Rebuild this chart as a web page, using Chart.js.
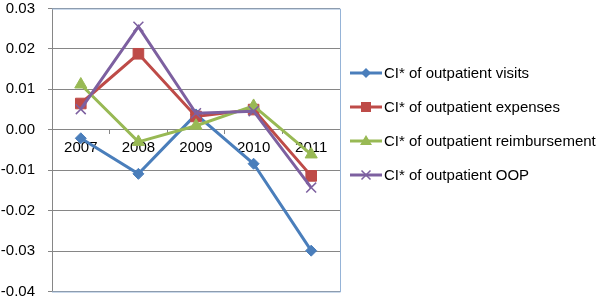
<!DOCTYPE html>
<html>
<head>
<meta charset="utf-8">
<script src="https://cdn.jsdelivr.net/npm/chart.js@4.4.0/dist/chart.umd.min.js"></script>
<style>
  html, body { margin: 0; padding: 0; background: #fff; }
  #wrap { width: 600px; height: 300px; }
</style>
</head>
<body>
<div id="wrap"><canvas id="chart" width="600" height="300"></canvas></div>
<script>
const years = ["2007", "2008", "2009", "2010", "2011"];
const visits = [-0.0021, -0.0109, 0.0038, -0.0084, -0.0299];
const expenses = [0.0065, 0.0188, 0.0033, 0.0050, -0.0114];
const reimbursement = [0.0112, -0.0030, 0.0010, 0.0059, -0.0061];
const oop = [0.0051, 0.0255, 0.0041, 0.0046, -0.0143];
const seriesNames = [
    "CI* of outpatient visits",
    "CI* of outpatient expenses",
    "CI* of outpatient reimbursement",
    "CI* of outpatient OOP"
];
const yTicks = [0.03, 0.02, 0.01, 0.00, -0.01, -0.02, -0.03, -0.04];

const FONT = "'Liberation Sans', Arial, sans-serif";
const colors = ["#4A7EBB", "#BE4B48", "#98B954", "#7D60A0"];
const styles = ["rectRot", "rect", "triangle", "crossRot"];
const radii = [5.5, 7.5, 7, 7];

function makeSet(i, data) {
    return {
        label: seriesNames[i],
        data: data,
        borderColor: colors[i],
        backgroundColor: colors[i],
        borderWidth: 3,
        pointStyle: styles[i],
        pointRadius: radii[i],
        pointBorderWidth: i === 3 ? 1.5 : 1,
        pointBorderColor: colors[i],
        pointBackgroundColor: colors[i],
        tension: 0,
        order: 4 - i
    };
}

// marker used in the legend rows
function drawMarker(ctx, style, x, y, r) {
    ctx.beginPath();
    if (style === "rectRot") {
        ctx.moveTo(x, y - r); ctx.lineTo(x + r, y); ctx.lineTo(x, y + r); ctx.lineTo(x - r, y);
        ctx.closePath(); ctx.fill();
    } else if (style === "rect") {
        ctx.rect(x - 5, y - 5, 10, 10); ctx.fill();
    } else if (style === "triangle") {
        ctx.moveTo(x, y - 6); ctx.lineTo(x + 6, y + 4); ctx.lineTo(x - 6, y + 4);
        ctx.closePath(); ctx.fill();
    } else {
        const d = 4.5;
        ctx.lineWidth = 1.5;
        ctx.moveTo(x - d, y - d); ctx.lineTo(x + d, y + d);
        ctx.moveTo(x + d, y - d); ctx.lineTo(x - d, y + d);
        ctx.stroke();
    }
}

const frameAndLegend = {
    id: "frameAndLegend",
    beforeDatasetsDraw(chart) {
        const { ctx, chartArea: a } = chart;
        ctx.save();
        ctx.strokeStyle = "#95B3D7";
        ctx.lineWidth = 1;
        ctx.beginPath();
        ctx.moveTo(a.left, a.top + 0.5); ctx.lineTo(a.right + 0.5, a.top + 0.5);
        ctx.lineTo(a.right + 0.5, a.bottom + 0.5); ctx.lineTo(a.left, a.bottom + 0.5);
        ctx.stroke();
        ctx.restore();
    },
    afterDraw(chart) {
        const ctx = chart.ctx;
        ctx.save();
        ctx.font = "15px " + FONT;
        ctx.textBaseline = "middle";
        ctx.fillStyle = "#000";
        const rowY = [73, 107, 141, 175];
        seriesNames.forEach((name, i) => {
            const y = rowY[i];
            ctx.strokeStyle = colors[i];
            ctx.fillStyle = colors[i];
            ctx.lineWidth = 3;
            ctx.beginPath();
            ctx.moveTo(350, y); ctx.lineTo(382, y);
            ctx.stroke();
            drawMarker(ctx, styles[i], 366, y, 5);
            ctx.fillStyle = "#000";
            ctx.fillText(name, 384, y + 1);
        });
        ctx.restore();
    }
};

new Chart(document.getElementById("chart"), {
    type: "line",
    data: {
        labels: years,
        datasets: [
            makeSet(0, visits),
            makeSet(1, expenses),
            makeSet(2, reimbursement),
            makeSet(3, oop)
        ]
    },
    options: {
        responsive: false,
        animation: false,
        layout: { padding: { left: 0, top: 7, right: 260, bottom: 7 } },
        plugins: {
            legend: { display: false },
            tooltip: { enabled: false }
        },
        scales: {
            x: {
                position: { y: 0 },
                offset: true,
                afterFit(scale) {
                    scale.height = 0;
                    scale.paddingLeft = 0;
                    scale.paddingRight = 0;
                },
                grid: {
                    display: true,
                    drawOnChartArea: false,
                    offset: true,
                    tickLength: 4,
                    color: "#868686"
                },
                border: { display: true, color: "#868686" },
                ticks: {
                    color: "#000",
                    font: { family: FONT, size: 15 },
                    padding: 5,
                    maxRotation: 0
                }
            },
            y: {
                min: -0.04,
                max: 0.03,
                afterFit(scale) {
                    scale.width = 52;
                    scale.paddingTop = 0;
                    scale.paddingBottom = 0;
                },
                afterBuildTicks(scale) {
                    scale.ticks = yTicks.map(v => ({ value: v }));
                },
                grid: {
                    color: "#868686",
                    lineWidth: 1,
                    tickLength: 4
                },
                border: { display: true, color: "#868686" },
                ticks: {
                    color: "#000",
                    font: { family: FONT, size: 15 },
                    padding: 13,
                    callback: v => v.toFixed(2)
                }
            }
        }
    },
    plugins: [frameAndLegend]
});
</script>
</body>
</html>
